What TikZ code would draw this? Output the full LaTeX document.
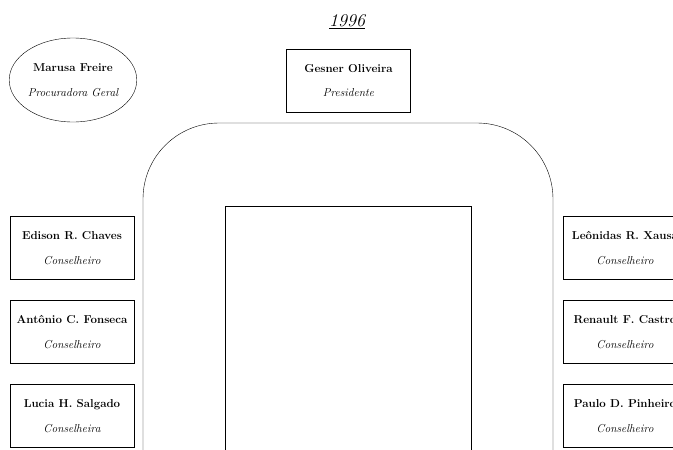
\documentclass[tikz,border=0pt]{standalone}
\usepackage{tikz}
\usetikzlibrary{positioning,shapes.geometric}

\tikzset{
    member/.style={draw, rectangle, minimum width=124pt, minimum height=63pt, inner sep=0pt, align=center},
    chief/.style={draw, ellipse, minimum width=124pt, minimum height=84pt, inner sep=0pt, align=center}
}
\newcommand{\who}[2]{{\fontsize{11.5}{14}\selectfont\bfseries #1}\\[12.5pt]{\fontsize{11.5}{13}\selectfont\itshape #2}}

\begin{document}
\begin{tikzpicture}[x=1pt, y=-1pt]
    \useasboundingbox (0,0) rectangle (673,450);
    \clip (0,0) rectangle (673,450);

    % Year
    \node (year) at (347,22) {\fontsize{18}{20}\selectfont\itshape\underline{1996}};

    % Table
    \draw[rounded corners=76pt] (143,470) -- (143,123) -- (553,123) -- (553,470);
    \draw (225,206) rectangle (471,470);

    % Top
    \node[chief] (procuradora) at (73,80) {\who{Marusa Freire}{Procuradora Geral}};
    \node[member] (presidente) at (348.5,80.5) {\who{Gesner Oliveira}{Presidente}};

    % Left side
    \foreach \i/\name/\role in {0/Edison R. Chaves/Conselheiro, 1/Antônio C. Fonseca/Conselheiro, 2/Lucia H. Salgado/Conselheira} {
        \node[member] (left\i) at (72,248+84*\i) {\who{\name}{\role}};
    }

    % Right side
    \foreach \i/\name/\role in {0/Leônidas R. Xausa/Conselheiro, 1/Renault F. Castro/Conselheiro, 2/Paulo D. Pinheiro/Conselheiro} {
        \node[member] (right\i) at (625,248+84*\i) {\who{\name}{\role}};
    }
\end{tikzpicture}
\end{document}
